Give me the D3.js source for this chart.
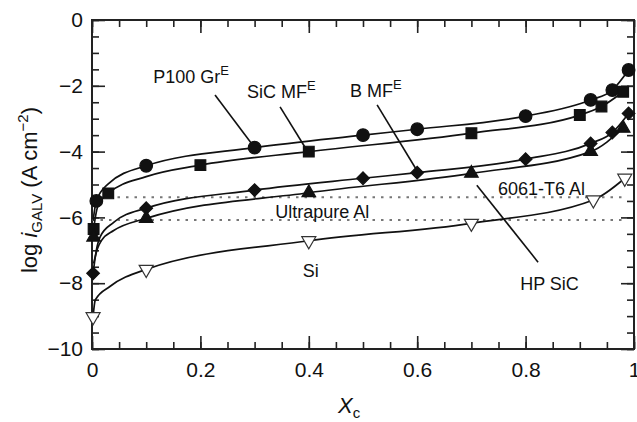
<!DOCTYPE html>
<html>
<head>
<meta charset="utf-8">
<script src="https://cdn.jsdelivr.net/npm/d3@7"></script>
<style>
  html, body { margin: 0; padding: 0; background: #fff; }
  svg text { font-family: "Liberation Sans", Arial, Helvetica, sans-serif; fill: #111; }
</style>
</head>
<body>
<svg id="chart" width="637" height="422"></svg>
<script>
// Cathode area fraction (x) vs. log galvanic current density (y)

// P100 Gr(E) — filled circles
const p100Marks = [[0.008, -5.5], [0.1, -4.43], [0.3, -3.88], [0.5, -3.5], [0.6, -3.32], [0.8, -2.92], [0.92, -2.43], [0.96, -2.13], [0.99, -1.52]];
const p100Fit = [[0.002, -6.1], [0.008, -5.5], [0.03, -4.98], [0.1, -4.43], [0.3, -3.88], [0.5, -3.5], [0.6, -3.32], [0.8, -2.92], [0.92, -2.43], [0.96, -2.13], [0.99, -1.52]];

// SiC MF(E) — filled squares
const sicMfMarks = [[0.003, -6.35], [0.03, -5.27], [0.2, -4.41], [0.4, -4.0], [0.7, -3.44], [0.9, -2.89], [0.94, -2.63], [0.98, -2.18]];
const sicMfFit = [[0.003, -6.35], [0.01, -5.7], [0.03, -5.27], [0.1, -4.76], [0.2, -4.41], [0.4, -4.0], [0.7, -3.44], [0.9, -2.89], [0.94, -2.63], [0.98, -2.18]];

// B MF(E) — filled diamonds
const bMfMarks = [[0.002, -7.7], [0.1, -5.72], [0.3, -5.17], [0.5, -4.81], [0.6, -4.64], [0.8, -4.23], [0.92, -3.75], [0.96, -3.42], [0.99, -2.84]];
const bMfFit = [[0.002, -7.7], [0.008, -7.0], [0.015, -6.59], [0.04, -6.15], [0.1, -5.72], [0.3, -5.17], [0.5, -4.81], [0.6, -4.64], [0.8, -4.23], [0.92, -3.75], [0.96, -3.42], [0.99, -2.84]];

// HP SiC — filled triangles
const hpSicMarks = [[0.003, -6.6], [0.1, -6.03], [0.4, -5.25], [0.7, -4.66], [0.92, -4.0], [0.98, -3.29]];
const hpSicFit = [[0.003, -7.4], [0.01, -6.95], [0.018, -6.69], [0.04, -6.4], [0.1, -6.03], [0.4, -5.25], [0.7, -4.66], [0.92, -4.0], [0.98, -3.29]];

// Si — open down-triangles
const siMarks = [[0.002, -9.02], [0.1, -7.58], [0.4, -6.71], [0.7, -6.18], [0.925, -5.47], [0.983, -4.81]];
const siFit = [[0.002, -9.02], [0.006, -8.51], [0.033, -8.1], [0.1, -7.58], [0.4, -6.71], [0.7, -6.18], [0.925, -5.47], [0.983, -4.81]];

// Reference levels for the monolithic alloys
const refLevels = [-5.39, -6.08];

// Axis ticks
const xMajor = [0, 0.2, 0.4, 0.6, 0.8, 1];
const xMinor = d3.range(0, 1.0001, 0.05);
const yMajor = [0, -2, -4, -6, -8, -10];
const yMinor = d3.range(-10, 0.0001, 0.5);

const svg = d3.select("#chart");
const mLeft = 92, mRight = 634, mTop = 20, mBottom = 349;
const x = d3.scaleLinear().domain([0, 1]).range([mLeft, mRight]);
const y = d3.scaleLinear().domain([-10, 0]).range([mBottom, mTop]);

const fmtX = d => d === 0 ? "0" : d === 1 ? "1" : d3.format(".1f")(d);
const fmtY = d => d === 0 ? "0" : "\u2212" + Math.abs(d);

function axisGroup(axis, tx, ty) {
  const g = svg.append("g").attr("transform", `translate(${tx},${ty})`).call(axis);
  g.select(".domain").remove();
  g.selectAll(".tick line").attr("stroke", "#222").attr("stroke-width", 1.6);
  return g;
}
// minor ticks on all four sides
axisGroup(d3.axisBottom(x).tickValues(xMinor).tickSize(-7).tickFormat(""), 0, mBottom);
axisGroup(d3.axisTop(x).tickValues(xMinor).tickSize(-7).tickFormat(""), 0, mTop);
axisGroup(d3.axisLeft(y).tickValues(yMinor).tickSize(-7).tickFormat(""), mLeft, 0);
axisGroup(d3.axisRight(y).tickValues(yMinor).tickSize(-7).tickFormat(""), mRight, 0);

// major ticks with labels
const xb = axisGroup(d3.axisBottom(x).tickValues(xMajor).tickSize(-13).tickPadding(13).tickFormat(fmtX), 0, mBottom);
axisGroup(d3.axisTop(x).tickValues(xMajor).tickSize(-13).tickFormat(""), 0, mTop);
const yl = axisGroup(d3.axisLeft(y).tickValues(yMajor).tickSize(-13).tickPadding(9).tickFormat(fmtY), mLeft, 0);
axisGroup(d3.axisRight(y).tickValues(yMajor).tickSize(-13).tickFormat(""), mRight, 0);
[xb, yl].forEach(g => g.selectAll(".tick text").style("font-size", "21px").attr("fill", "#111"));
xb.selectAll(".tick text").attr("dy", "0.72em");

// frame
svg.append("rect").attr("x", mLeft).attr("y", mTop)
  .attr("width", mRight - mLeft).attr("height", mBottom - mTop)
  .attr("fill", "none").attr("stroke", "#222").attr("stroke-width", 2);

// dotted reference lines
svg.selectAll(".ref").data(refLevels).enter().append("line")
  .attr("x1", x(0)).attr("x2", x(0.98))
  .attr("y1", d => y(d)).attr("y2", d => y(d))
  .attr("stroke", "#777").attr("stroke-width", 2)
  .attr("stroke-dasharray", "2.5,6");

// fitted curves
const line = d3.line().x(d => x(d[0])).y(d => y(d[1])).curve(d3.curveMonotoneX);
[p100Fit, sicMfFit, bMfFit, hpSicFit, siFit].forEach(fit => {
  svg.append("path").attr("d", line(fit))
    .attr("fill", "none").attr("stroke", "#111").attr("stroke-width", 1.7);
});

// markers
function marks(data, type, size, fill, stroke, rot) {
  const p = d3.symbol().type(type).size(size)();
  svg.append("g").selectAll("path").data(data).enter().append("path")
    .attr("d", p)
    .attr("transform", d => `translate(${x(d[0])},${y(d[1])})` + (rot ? ` rotate(${rot})` : ""))
    .attr("fill", fill).attr("stroke", stroke).attr("stroke-width", 1.2);
}
marks(p100Marks, d3.symbolCircle, 125, "#111", "#111");
marks(sicMfMarks, d3.symbolSquare, 115, "#111", "#111");
marks(bMfMarks, d3.symbolSquare, 80, "#111", "#111", 45);
marks(hpSicMarks, d3.symbolTriangle, 80, "#111", "#111");
marks(siMarks, d3.symbolTriangle, 85, "#fff", "#333", 180);

// leader lines from labels to curves
const leaders = [
  [[0.227, -2.28], [0.295, -3.77]],
  [[0.347, -2.64], [0.395, -3.92]],
  [[0.526, -2.58], [0.6, -4.59]],
  [[0.71, -5.02], [0.823, -7.36]]
];
svg.selectAll(".leader").data(leaders).enter().append("line")
  .attr("x1", d => x(d[0][0])).attr("y1", d => y(d[0][1]))
  .attr("x2", d => x(d[1][0])).attr("y2", d => y(d[1][1]))
  .attr("stroke", "#111").attr("stroke-width", 1.6);

// series labels
const labels = [
  { t: "P100 Gr", sup: "E", at: [0.113, -1.91] },
  { t: "SiC MF", sup: "E", at: [0.286, -2.37] },
  { t: "B MF", sup: "E", at: [0.476, -2.34] },
  { t: "6061-T6 Al", at: [0.749, -5.32] },
  { t: "Ultrapure Al", at: [0.338, -6.02] },
  { t: "HP SiC", at: [0.79, -8.21] },
  { t: "Si", at: [0.389, -7.81] }
];
labels.forEach(l => {
  const t = svg.append("text").attr("x", x(l.at[0])).attr("y", y(l.at[1]))
    .style("font-size", "18px");
  t.append("tspan").text(l.t);
  if (l.sup) t.append("tspan").attr("dy", -8).style("font-size", "13px").text(l.sup);
});

// axis titles
const xt = svg.append("text").attr("x", 338).attr("y", 413).style("font-size", "22px");
xt.append("tspan").style("font-style", "italic").text("X");
xt.append("tspan").attr("dy", 5).style("font-size", "15px").text("c");

const yt = svg.append("text")
  .attr("transform", "translate(37,190) rotate(-90)")
  .attr("text-anchor", "middle").style("font-size", "22px");
yt.append("tspan").text("log ");
yt.append("tspan").style("font-style", "italic").text("i");
yt.append("tspan").attr("dy", 5).style("font-size", "15px").text("GALV");
yt.append("tspan").attr("dy", -5).text(" (A cm");
yt.append("tspan").attr("dy", -9).style("font-size", "15px").text("\u22122");
yt.append("tspan").attr("dy", 9).text(")");
</script>
</body>
</html>
